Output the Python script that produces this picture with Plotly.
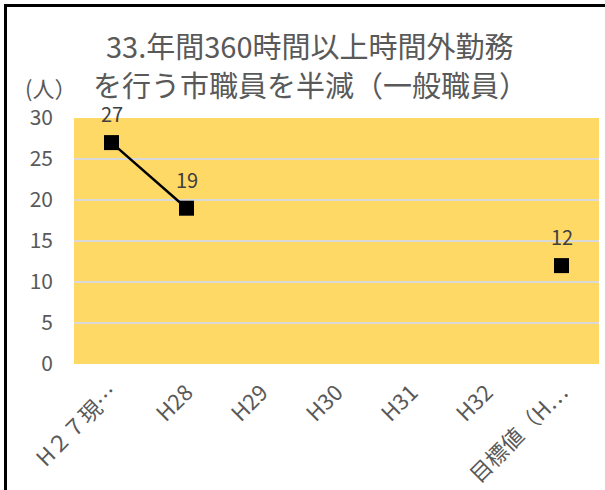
import plotly.graph_objects as go

# 年度ごとの時間外勤務360時間以上の一般職員数
categories = ["H２７現…", "H28", "H29", "H30", "H31", "H32", "目標値（H…"]
values = [27, 19, None, None, None, None, 12]
y_ticks = [0, 5, 10, 15, 20, 25, 30]

title_lines = ["33.年間360時間以上時間外勤務", "を行う市職員を半減（一般職員）"]
unit_label = "(人）"

FONT = "Noto Sans CJK JP"
GRAY = "#595959"

fig = go.Figure()
fig.add_trace(go.Scatter(
    x=categories,
    y=values,
    mode="lines+markers",
    connectgaps=False,
    line=dict(color="black", width=2.5),
    marker=dict(symbol="square", size=15, color="black"),
    hoverinfo="skip",
    showlegend=False,
))

# value labels above each point
for cat, val in zip(categories, values):
    if val is None:
        continue
    fig.add_annotation(
        x=cat, y=val, text=str(val), showarrow=False,
        yshift=29, font=dict(family=FONT, size=20, color="#404040"),
    )

# two-line chart title
for i, line in enumerate(title_lines):
    fig.add_annotation(
        xref="paper", yref="paper",
        x=(310 - 74) / 525, y=(364 - [45, 84][i]) / 246,
        text=line, showarrow=False, xanchor="center", yanchor="middle",
        font=dict(family=FONT, size=29, color=GRAY),
    )

# unit label for the vertical axis
fig.add_annotation(
    xref="paper", yref="paper",
    x=(23 - 74) / 525, y=(364 - 87) / 246,
    text=unit_label, showarrow=False, xanchor="left", yanchor="middle",
    font=dict(family=FONT, size=22, color=GRAY),
)

# chart frame (left and top edges)
fig.add_shape(type="line", xref="paper", yref="paper",
              x0=(5.5 - 74) / 525, x1=(5.5 - 74) / 525,
              y0=(364 - 4) / 246, y1=(364 - 500) / 246,
              line=dict(color="black", width=3))
fig.add_shape(type="line", xref="paper", yref="paper",
              x0=(4 - 74) / 525, x1=(620 - 74) / 525,
              y0=(364 - 5.5) / 246, y1=(364 - 5.5) / 246,
              line=dict(color="black", width=3))

fig.update_layout(
    width=605, height=490,
    margin=dict(l=74, r=6, t=118, b=126),
    paper_bgcolor="white",
    plot_bgcolor="#FFD966",
    font=dict(family=FONT, color=GRAY),
    xaxis=dict(
        type="category",
        categoryorder="array", categoryarray=categories,
        range=[-0.5, 6.5],
        tickangle=-45,
        tickfont=dict(family=FONT, size=22, color=GRAY),
        showgrid=False, zeroline=False, showline=False,
        ticks="outside", ticklen=6, tickcolor="rgba(0,0,0,0)",
        automargin=False,
    ),
    yaxis=dict(
        range=[0, 30],
        tickvals=y_ticks,
        tickfont=dict(family=FONT, size=21, color=GRAY),
        showgrid=True, gridcolor="#D9D9D9", gridwidth=1.5,
        zeroline=False, showline=False,
        ticklabelstandoff=20,
        automargin=False,
    ),
)

fig.write_html("out.html")
